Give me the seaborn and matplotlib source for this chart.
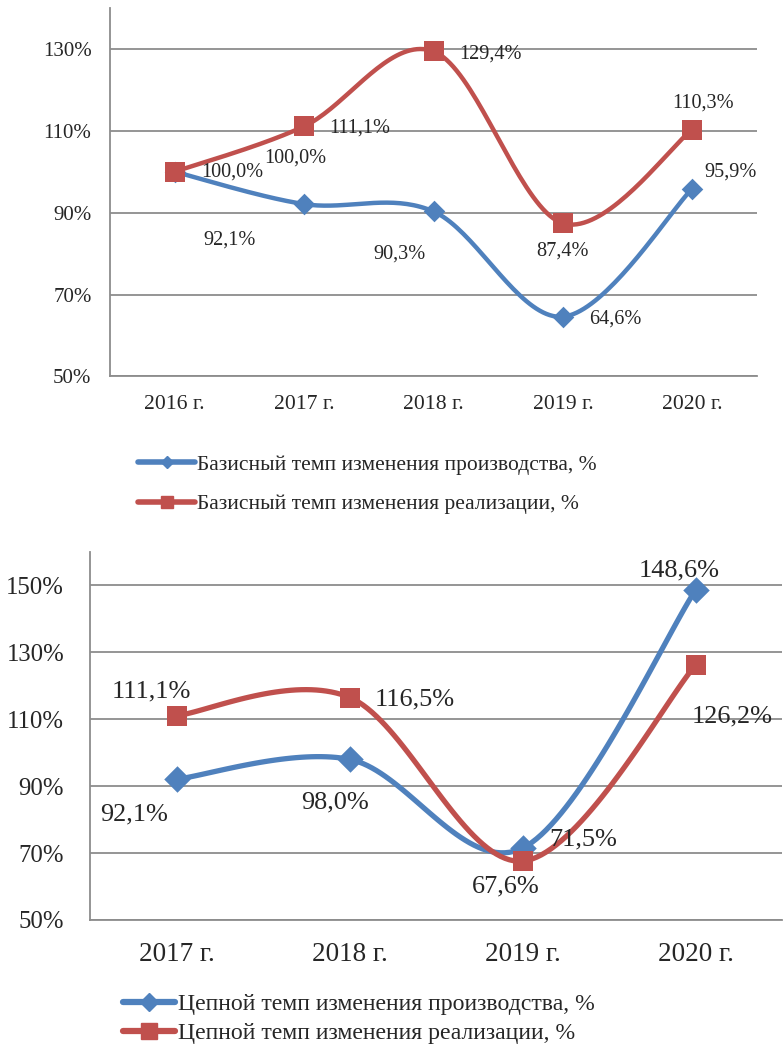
import numpy as np
import pandas as pd
import matplotlib
matplotlib.use('Agg')
import matplotlib.pyplot as plt
from matplotlib.lines import Line2D
import seaborn as sns

# данные: базисные темпы (2016-2020)
years_base = ['2016 г.', '2017 г.', '2018 г.', '2019 г.', '2020 г.']
base_prod = [100.0, 92.1, 90.3, 64.6, 95.9]
base_sales = [100.0, 111.1, 129.4, 87.4, 110.3]

# цепные темпы (2017-2020)
years_chain = ['2017 г.', '2018 г.', '2019 г.', '2020 г.']
chain_prod = [92.1, 98.0, 71.5, 148.6]
chain_sales = [111.1, 116.5, 67.6, 126.2]

label_base_prod = 'Базисный темп изменения производства, %'
label_base_sales = 'Базисный темп изменения реализации, %'
label_chain_prod = 'Цепной темп изменения производства, %'
label_chain_sales = 'Цепной темп изменения реализации, %'

# смещения подписей данных (в пикселях, y вверх)
off_base_prod = [(58, 0), (-75, -36), (-34, -43), (52, -2), (38, 16)]
off_base_sales = [(121, 14), (56, -2), (57, -3), (0, -28), (11, 27)]
off_chain_prod = [(-43, -35), (-15, -43), (60, 9), (-16, 20)]
off_chain_sales = [(-26, 24), (65, -2), (-17, -25), (37, -51)]

BLUE = '#4F81BD'
RED = '#C0504D'
GRID = '#8C8C8C'

sns.set_style('white')
plt.rcParams['font.family'] = ['Liberation Serif', 'DejaVu Serif']


def smooth(ys, n=40):
    # сглаживание как в Excel (кривые Безье через точки)
    pts = np.column_stack([np.arange(len(ys), dtype=float), np.asarray(ys, dtype=float)])
    out = []
    for i in range(len(pts) - 1):
        p0 = pts[i - 1] if i > 0 else pts[i]
        p1, p2 = pts[i], pts[i + 1]
        p3 = pts[i + 2] if i + 2 < len(pts) else pts[i + 1]
        c1 = p1 + (p2 - p0) / 6
        c2 = p2 - (p3 - p1) / 6
        t = np.linspace(0, 1, n)[:, None]
        seg = (1 - t) ** 3 * p1 + 3 * (1 - t) ** 2 * t * c1 + 3 * (1 - t) * t ** 2 * c2 + t ** 3 * p2
        out.append(seg if i == 0 else seg[1:])
    pts = np.vstack(out)
    return pd.DataFrame({'x': pts[:, 0], 'y': pts[:, 1]})


def draw_panel(ax, cats, s1, s2, off1, off2, ylim, yticks, lw, ms_d, ms_s,
               fs_y, fs_x, fs_lab, ypad, xpad, tlen):
    for vals, color, marker, ms, offs in [(s1, BLUE, 'D', ms_d, off1), (s2, RED, 's', ms_s, off2)]:
        curve = smooth(vals)
        sns.lineplot(data=curve, x='x', y='y', sort=False, estimator=None, color=color,
                     lw=lw, ax=ax, zorder=3)
        pts = pd.DataFrame({'x': np.arange(len(vals)), 'y': vals})
        sns.scatterplot(data=pts, x='x', y='y', marker=marker, s=ms ** 2, color=color,
                        edgecolor=color, linewidth=0, ax=ax, zorder=4)
        for i, v in enumerate(vals):
            ax.annotate(f'{v:.1f}%'.replace('.', ','), xy=(i, v), xytext=offs[i],
                        textcoords='offset pixels', ha='center', va='center',
                        fontsize=fs_lab, zorder=5)
    ax.set_xlim(-0.5, len(cats) - 0.5)
    ax.set_ylim(*ylim)
    ax.set_yticks(yticks)
    ax.set_yticklabels([f'{t}%' for t in yticks], fontsize=fs_y)
    ax.set_xticks(range(len(cats)))
    ax.set_xticklabels(cats, fontsize=fs_x)
    ax.set_xticks(np.arange(-0.5, len(cats)), minor=True)
    ax.tick_params(axis='x', which='major', length=0, pad=xpad)
    ax.tick_params(axis='x', which='minor', length=tlen, width=1.2, color=GRID, direction='out')
    ax.tick_params(axis='y', length=tlen, width=1.2, color=GRID, direction='out', pad=ypad)
    ax.set_xlabel('')
    ax.set_ylabel('')
    for y in yticks:
        ax.axhline(y, color=GRID, lw=1.3, zorder=1)
    for side in ['top', 'right']:
        ax.spines[side].set_visible(False)
    for side in ['left', 'bottom']:
        ax.spines[side].set_color(GRID)
        ax.spines[side].set_linewidth(1.3)


fig = plt.figure(figsize=(7.84, 10.49), dpi=100)

ax1 = fig.add_axes([0.1403, 0.6411, 0.8253, 0.3513])
draw_panel(ax1, years_base, base_prod, base_sales, off_base_prod, off_base_sales,
           (50, 140), [50, 70, 90, 110, 130], 3.2, 11, 14.4, 15, 15.6, 14.6, 9, 13.5, 4.3)

ax2 = fig.add_axes([0.1154, 0.1230, 0.8821, 0.3508])
draw_panel(ax2, years_chain, chain_prod, chain_sales, off_chain_prod, off_chain_sales,
           (50, 160), [50, 70, 90, 110, 130, 150], 3.8, 13.5, 14.5, 17.8, 19.5, 18.9, 14, 16, 5)

h1 = [Line2D([], [], color=BLUE, lw=4, marker='D', ms=6, label=label_base_prod),
      Line2D([], [], color=RED, lw=4, marker='s', ms=8, label=label_base_sales)]
fig.legend(handles=h1, loc='center left', bbox_to_anchor=(0.176, 0.538), frameon=False,
           fontsize=15.5, handlelength=2.65, handletextpad=0.1, labelspacing=0.9,
           borderpad=0, borderaxespad=0)

h2 = [Line2D([], [], color=BLUE, lw=4.5, marker='D', ms=9, label=label_chain_prod),
      Line2D([], [], color=RED, lw=4.5, marker='s', ms=11, label=label_chain_sales)]
fig.legend(handles=h2, loc='center left', bbox_to_anchor=(0.157, 0.0286), frameon=False,
           fontsize=17.1, handlelength=2.2, handletextpad=0.1, labelspacing=0.3,
           borderpad=0, borderaxespad=0)

fig.savefig('out.png', dpi=100)
